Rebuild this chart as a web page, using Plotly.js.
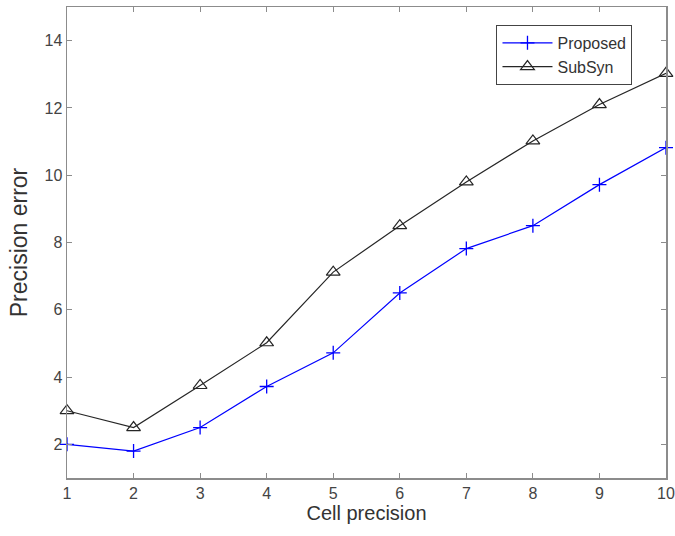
<!DOCTYPE html>
<html>
<head>
<meta charset="utf-8">
<script src="https://cdn.plot.ly/plotly-3.0.1.min.js"></script>
<style>html,body{margin:0;padding:0;background:#fff}#chart{width:675px;height:536px}</style>
</head>
<body>
<div id="chart"></div>
<script>
const cellPrecision = [1, 2, 3, 4, 5, 6, 7, 8, 9, 10];
const proposed = [2.0, 1.8, 2.5, 3.72, 4.72, 6.5, 7.82, 8.5, 9.72, 10.82];
const subSyn = [3.0, 2.5, 3.75, 5.02, 7.12, 8.5, 9.8, 11.02, 12.1, 13.03];
const yTicks = [2, 4, 6, 8, 10, 12, 14];

const FONT = 'Liberation Sans, Arial, sans-serif';

const traces = [
  {
    x: cellPrecision, y: proposed, name: 'Proposed', mode: 'lines+markers', cliponaxis: false,
    line: {color: '#0000ff', width: 1.2},
    marker: {symbol: 'cross-thin-open', size: 10, line: {color: '#0000ff', width: 1.3}, color: '#0000ff'}
  },
  {
    x: cellPrecision, y: subSyn, name: 'SubSyn', mode: 'lines+markers', cliponaxis: false,
    line: {color: '#262626', width: 1.2},
    marker: {symbol: 'triangle-up-open', size: 12, line: {color: '#262626', width: 1.2}, color: '#262626'}
  }
];

const axisCommon = {
  showline: true, linecolor: '#8c8c8c', linewidth: 1.5, mirror: 'ticks',
  ticks: 'inside', ticklen: 5, tickcolor: '#8c8c8c', tickwidth: 1,
  showgrid: false, zeroline: false,
  tickfont: {family: FONT, size: 16, color: '#444'}
};

const layout = {
  width: 675, height: 536,
  margin: {l: 67, r: 9, t: 7, b: 58},
  paper_bgcolor: '#fff', plot_bgcolor: '#fff',
  showlegend: true,
  legend: {
    x: 0.717, y: 0.962, xanchor: 'left', yanchor: 'top',
    bgcolor: '#fff', bordercolor: '#444', borderwidth: 1,
    font: {family: FONT, size: 16, color: '#333'},
    tracegroupgap: 0, itemwidth: 50
  },
  xaxis: Object.assign({}, axisCommon, {
    range: [1, 10], tickvals: cellPrecision, ticktext: cellPrecision.map(String),
    title: {text: 'Cell precision', font: {family: FONT, size: 20, color: '#333'}, standoff: 5}
  }),
  yaxis: Object.assign({}, axisCommon, {
    range: [1, 15], tickvals: yTicks, ticktext: yTicks.map(String),
    title: {text: 'Precision error', font: {family: FONT, size: 23, color: '#333'}, standoff: 10}
  })
};

Plotly.newPlot('chart', traces, layout, {displayModeBar: false, staticPlot: true});
</script>
</body>
</html>
